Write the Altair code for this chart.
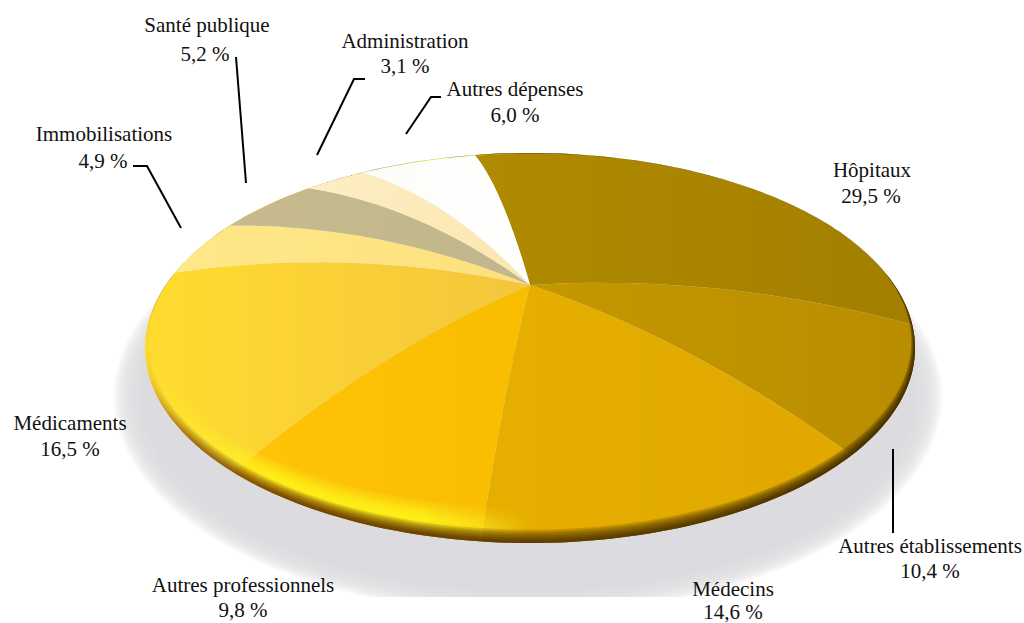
import math
import altair as alt

# Health spending shares, clockwise from the top of the disc
categories = ["Hôpitaux", "Autres établissements", "Médecins", "Autres professionnels",
              "Médicaments", "Immobilisations", "Santé publique", "Administration", "Autres dépenses"]
shares = [29.5, 10.4, 14.6, 9.8, 16.5, 4.9, 5.2, 3.1, 6.0]

# Slice fill: colour at the left and at the right of each slice
slice_colors = [("#b08a00", "#a27f00"), ("#c49800", "#b98d00"), ("#e6af00", "#e0a800"),
                ("#ffc408", "#f9bd00"), ("#ffdc2e", "#f4c53e"), ("#ffe88a", "#fde07c"),
                ("#c6ba8e", "#c2b68c"), ("#fdeec6", "#fde6ae"), ("#fcfcf8", "#ffffff")]

# Caption anchors (centre x, first-line y, second-line y, second-line x)
captions = {
    "Hôpitaux": (872, 171, 197, 871),
    "Autres établissements": (930, 547, 572, 930),
    "Médecins": (733, 590, 613, 733),
    "Autres professionnels": (243, 586, 611, 243),
    "Médicaments": (70, 424, 450, 70),
    "Immobilisations": (104, 135, 162, 103),
    "Santé publique": (207, 26, 55, 205),
    "Administration": (405, 42, 67, 405),
    "Autres dépenses": (515, 90, 116, 515),
}

# Leader lines from caption to disc
leaders = [
    [(133, 166), (147, 166), (181, 228)],
    [(236, 57), (246, 183)],
    [(365, 79), (354, 79), (317, 155)],
    [(441, 97), (431, 97), (406, 134)],
    [(893, 449), (893, 533)],
]

W, H = 1024, 623
CX, CY, RX, RY = 530, 348, 385, 195   # rim ellipse
DOME = 63                             # lift of the disc centre above the rim plane
TILT = 1.25                           # perspective stretch of the front of the disc
START = -10.3                         # bearing of the first slice, degrees


def seen_bearing(share_sum):
    """Bearing on the rim of a cumulative share, after perspective."""
    t = math.radians(START + share_sum * 3.6 - 180)
    half = t / 2
    seen = 2 * math.atan(TILT * math.tan(half))
    # keep on the same turn as the unprojected angle
    turns = round((t - seen) / (2 * math.pi))
    return seen + turns * 2 * math.pi + math.pi


def dome_point(r, phi):
    return (CX + RX * r * math.sin(phi),
            CY - RY * r * math.cos(phi) - DOME * (1 - r * r))


def sector(c0, c1):
    a0, a1 = seen_bearing(c0), seen_bearing(c1)
    pts = [dome_point(i / 24, a0) for i in range(25)]
    n = max(8, int((a1 - a0) * 60))
    pts += [dome_point(1, a0 + (a1 - a0) * i / n) for i in range(1, n + 1)]
    pts += [dome_point(1 - i / 24, a1) for i in range(1, 25)]
    return pts


def ellipse(cx, cy, rx, ry, n=240, reverse=False):
    pts = [(cx + rx * math.cos(2 * math.pi * i / n), cy + ry * math.sin(2 * math.pi * i / n))
           for i in range(n + 1)]
    return pts[::-1] if reverse else pts


def inset_ellipse(d, reverse=False):
    return ellipse(CX, CY - d * 0.5, RX - d * 0.3, RY - d * 0.53, reverse=reverse)


def crescent(d_out, d_in):
    return [inset_ellipse(d_out), inset_ellipse(d_in, reverse=True)]


def as_coords(pts):
    return [[round(x, 2), round(y, 2)] for x, y in pts]


def shape(geometries, **mark):
    feats = [{"type": "Feature", "properties": {}, "geometry": g} for g in geometries]
    data = alt.InlineData(values={"type": "FeatureCollection", "features": feats},
                          format=alt.DataFormat(property="features", type="json"))
    return alt.Chart(data).mark_geoshape(**mark).project(type="identity", scale=1, translate=[0, 0])


def polygon(rings):
    return {"type": "Polygon", "coordinates": [as_coords(r) for r in rings]}


def hgrad(stops):
    return alt.LinearGradient(gradient="linear", x1=0, x2=1, y1=0, y2=0,
                              stops=[alt.GradientStop(offset=o, color=c) for o, c in stops])


layers = []

# Soft shadow under the disc, flat along its lower edge
SHADOW_FLOOR = 597
for k in range(14):
    pts = [(x, min(y, SHADOW_FLOOR)) for x, y in ellipse(528, 396, 414 - k * 2.8, 218 - k * 2.4)]
    layers.append(shape([polygon([pts])], fill="#dbdbde", fillOpacity=0.22, strokeOpacity=0))

# Slices
running = 0.0
for share, (left, right) in zip(shares, slice_colors):
    layers.append(shape([polygon([sector(running, running + share)])],
                        fill=hgrad([(0, left), (1, right)]), strokeOpacity=0))
    running += share

# Yellow glint along the front left of the bevel
glint = hgrad([(0, "rgba(255,240,40,0)"), (0.08, "rgba(255,245,40,0.35)"), (0.16, "rgba(255,250,30,0.8)"),
               (0.36, "rgba(255,250,30,0.85)"), (0.5, "rgba(255,240,40,0)"), (1, "rgba(255,240,40,0)")])
for d_out, d_in in [(4, 34), (5, 31), (6, 28), (7, 26), (8, 24), (9, 22), (10, 20), (11, 18)]:
    layers.append(shape([polygon(crescent(d_out, d_in))], fill=glint, fillOpacity=0.2, strokeOpacity=0))

# Bevel darkening towards the rim, fading out on the left side
bevel = hgrad([(0, "rgba(110,60,0,0)"), (0.06, "rgba(110,60,0,0.1)"), (0.2, "rgba(90,48,0,0.17)"),
               (0.6, "rgba(70,45,0,0.19)"), (1, "rgba(60,40,0,0.22)")])
for d in [13, 11.5, 10, 8.5, 7, 5.5, 4.5, 3.5, 2.5, 1.5]:
    layers.append(shape([polygon(crescent(0, d))], fill=bevel, strokeOpacity=0))

# Leader lines
layers.append(shape([{"type": "LineString", "coordinates": as_coords(l)} for l in leaders],
                    filled=False, fill="transparent", stroke="#000000", strokeWidth=2))

# Captions
rows = []
for name, share in zip(categories, shares):
    x, y1, y2, x2 = captions[name]
    rows.append({"t": name, "x": x, "y": y1})
    rows.append({"t": f"{share:.1f} %".replace(".", ","), "x": x2, "y": y2})

layers.append(
    alt.Chart(alt.InlineData(values=rows)).mark_text(
        font="Liberation Serif", fontSize=21, color="#111111", align="center", baseline="middle"
    ).encode(x=alt.X("x:Q", scale=None), y=alt.Y("y:Q", scale=None), text="t:N")
)

chart = alt.layer(*layers).properties(
    width=W, height=H, padding=0, autosize=alt.AutoSizeParams(type="none"), background="#ffffff"
).configure_view(stroke=None)

chart.save("out.html", embed_options={"renderer": "svg", "actions": False})
